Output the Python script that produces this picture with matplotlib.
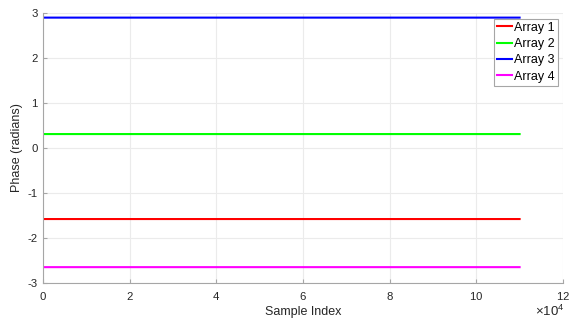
import numpy as np
import matplotlib
matplotlib.use("Agg")
from matplotlib import pyplot as plt

# constant phase per array over the record
n_samples = 110000
array_labels = ['Array 1', 'Array 2', 'Array 3', 'Array 4']
array_phases = [-1.58, 0.31, 2.90, -2.65]
array_colors = ['#ff0000', '#00ff00', '#0000ff', '#ff00ff']

plt.rcParams['font.family'] = ['Liberation Sans', 'DejaVu Sans']
plt.rcParams['axes.unicode_minus'] = False
plt.rcParams['mathtext.fontset'] = 'custom'
plt.rcParams['mathtext.rm'] = 'Liberation Sans'

sample_index = np.arange(1, n_samples + 1)

fig = plt.figure(figsize=(5.75, 3.2), dpi=100)
ax = fig.add_axes([0.075, 0.116, 0.904, 0.843])

for label, phase, color in zip(array_labels, array_phases, array_colors):
    ax.plot(sample_index, np.full(n_samples, phase), color=color, lw=1.5, label=label)

ax.set_xlim(0, 1.2e5)
ax.set_ylim(-3, 3)
ax.set_xticks(np.arange(0, 1.21e5, 2e4))
ax.set_yticks(np.arange(-3, 4, 1))
ax.ticklabel_format(axis='x', style='sci', scilimits=(4, 4), useMathText=True)
# exponent drawn by hand so it sits inside the figure
ax.xaxis.get_offset_text().set_visible(False)
fig.text(0.981, 0.0125, r'$\times\mathrm{10}^{4}$', ha='right', va='baseline',
         fontsize=9.5, color='#262626')

ax.grid(True, color='#ebebeb', lw=0.8)
ax.set_axisbelow(True)
for side in ['top', 'right']:
    ax.spines[side].set_visible(False)
for side in ['left', 'bottom']:
    ax.spines[side].set_color('#a6a6a6')
    ax.spines[side].set_linewidth(0.8)
ax.tick_params(direction='in', length=3, width=0.8, color='#a6a6a6',
               labelcolor='#262626', labelsize=8.2)
ax.tick_params(axis='x', pad=5)
ax.tick_params(axis='y', pad=4)

ax.set_xlabel('Sample Index', fontsize=9, color='#262626', labelpad=3)
ax.set_ylabel('Phase (radians)', fontsize=9, color='#262626', labelpad=3)

leg = ax.legend(loc='upper right', bbox_to_anchor=(0.99, 0.98), fontsize=9,
                handlelength=1.2, handletextpad=0.15, labelspacing=0.35,
                borderpad=0.25, borderaxespad=0, fancybox=False, framealpha=1)
leg.get_frame().set_edgecolor('#a6a6a6')
leg.get_frame().set_linewidth(0.8)

plt.savefig('out.png', dpi=100)
